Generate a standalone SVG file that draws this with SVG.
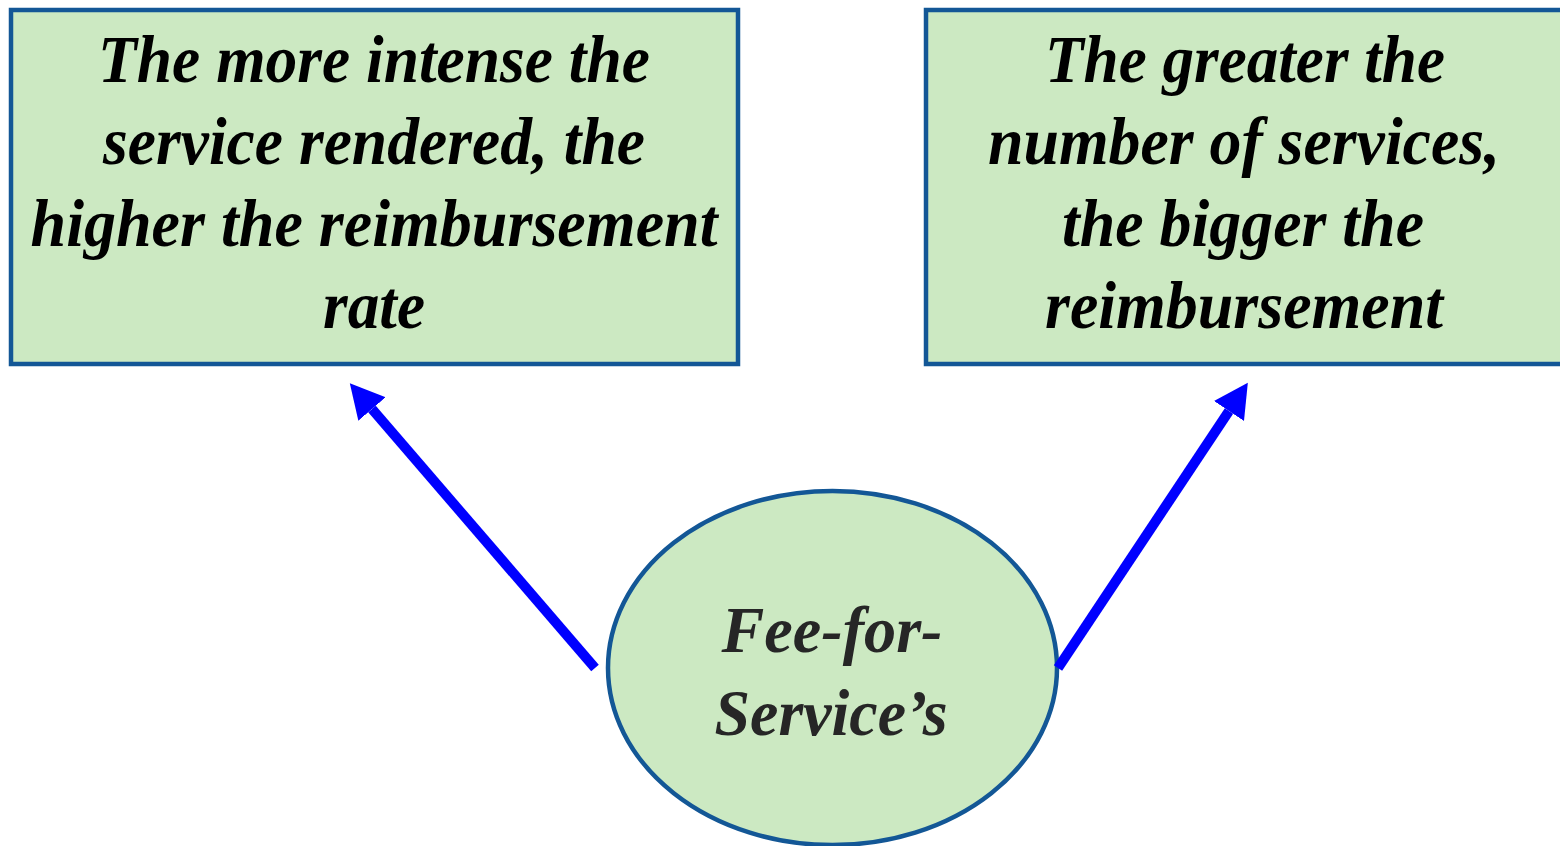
<svg xmlns="http://www.w3.org/2000/svg" width="1560" height="846" viewBox="0 0 1560 846">
  <style>
    .box { fill: #cce9c2; stroke: #135796; stroke-width: 4.5; }
    .t { font-family: "Liberation Serif", "Times New Roman", serif; font-weight: bold; font-style: italic; font-size: 68px; fill: #000; }
    .e { fill: #262626; font-size: 66px; }
    .conn { stroke: #0000ff; stroke-width: 10; fill: none; marker-end: url(#head); }
  </style>
  <defs>
    <marker id="head" viewBox="0 0 34 36" refX="0" refY="18" markerWidth="34" markerHeight="36" markerUnits="userSpaceOnUse" orient="auto">
      <path d="M0,0 L34,18 L0,36 Z" fill="#0000ff"/>
    </marker>
  </defs>
  <rect width="1560" height="846" fill="#ffffff"/>
  <g id="box-intensity">
    <rect class="box" x="11" y="10" width="727" height="354"/>
    <text class="t" x="374" y="82" text-anchor="middle" textLength="552" lengthAdjust="spacingAndGlyphs">The more intense the</text>
    <text class="t" x="374" y="164" text-anchor="middle" textLength="542" lengthAdjust="spacingAndGlyphs">service rendered, the</text>
    <text class="t" x="374" y="246" text-anchor="middle" textLength="687" lengthAdjust="spacingAndGlyphs">higher the reimbursement</text>
    <text class="t" x="374" y="328" text-anchor="middle" textLength="102" lengthAdjust="spacingAndGlyphs">rate</text>
  </g>
  <g id="box-number">
    <rect class="box" x="926" y="10" width="640" height="354"/>
    <text class="t" x="1245" y="82" text-anchor="middle" textLength="400" lengthAdjust="spacingAndGlyphs">The greater the</text>
    <text class="t" x="1244" y="164" text-anchor="middle" textLength="512" lengthAdjust="spacingAndGlyphs">number of services,</text>
    <text class="t" x="1243" y="246" text-anchor="middle" textLength="362" lengthAdjust="spacingAndGlyphs">the bigger the</text>
    <text class="t" x="1244" y="328" text-anchor="middle" textLength="398" lengthAdjust="spacingAndGlyphs">reimbursement</text>
  </g>
  <g id="ellipse-ffs">
    <ellipse class="box" cx="832.5" cy="668" rx="224.5" ry="177"/>
    <text class="t e" x="832" y="652" text-anchor="middle" textLength="221" lengthAdjust="spacingAndGlyphs">Fee-for-</text>
    <text class="t e" x="831" y="735" text-anchor="middle" textLength="233" lengthAdjust="spacingAndGlyphs">Service’s</text>
  </g>
  <g id="connectors">
    <line class="conn" x1="595" y1="668" x2="372" y2="409"/>
    <line class="conn" x1="1058" y1="668" x2="1229" y2="411"/>
  </g>
</svg>
